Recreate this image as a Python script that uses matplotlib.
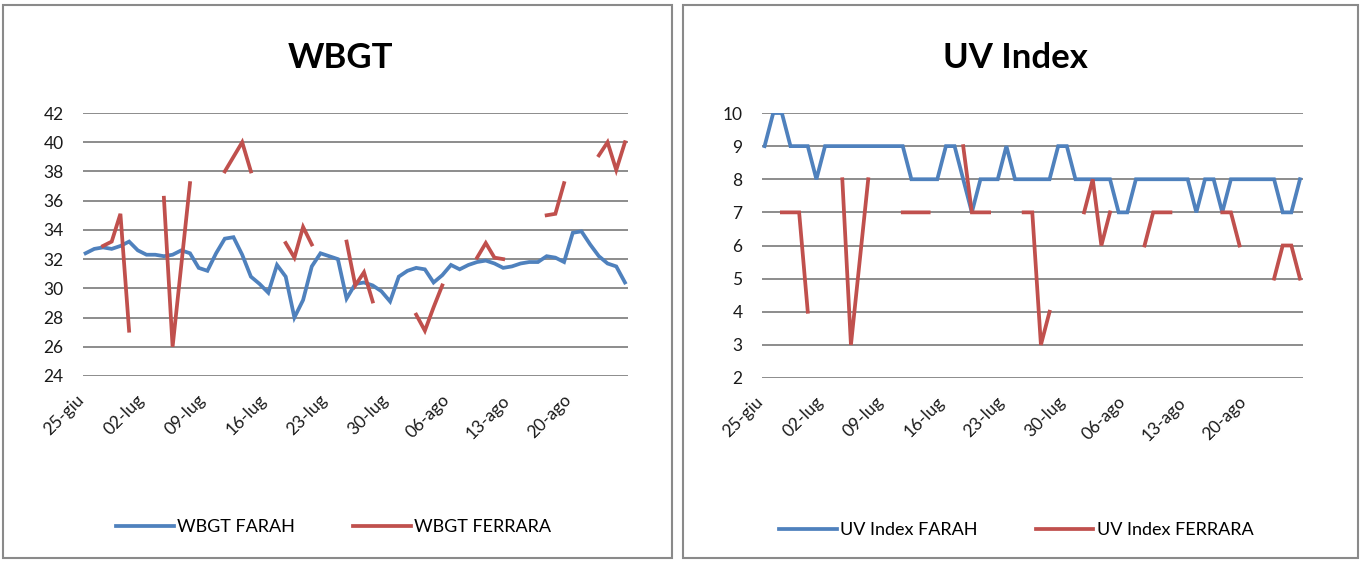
import numpy as np
import matplotlib
matplotlib.use("Agg")
import matplotlib.pyplot as plt
import matplotlib.transforms as mtransforms
from matplotlib.patches import Rectangle

plt.rcParams['font.family'] = ['Lato', 'DejaVu Sans']

nan = np.nan

# one value per day, 25-giu .. 26-ago
date_labels = ["25-giu", "02-lug", "09-lug", "16-lug", "23-lug",
               "30-lug", "06-ago", "13-ago", "20-ago"]

wbgt_farah = [32.4, 32.7, 32.8, 32.7, 32.9, 33.2, 32.6, 32.3, 32.3, 32.2,
              32.3, 32.6, 32.4, 31.4, 31.2, 32.4, 33.4, 33.5, 32.3, 30.8,
              30.3, 29.7, 31.6, 30.8, 28.0, 29.2, 31.5, 32.4, 32.2, 32.0,
              29.3, 30.3, 30.4, 30.2, 29.8, 29.1, 30.8, 31.2, 31.4, 31.3,
              30.4, 30.9, 31.6, 31.3, 31.6, 31.8, 31.9, 31.7, 31.4, 31.5,
              31.7, 31.8, 31.8, 32.2, 32.1, 31.8, 33.8, 33.9, 33.0, 32.2,
              31.7, 31.5, 30.4]

wbgt_ferrara = [nan, nan, 32.9, 33.2, 35.1, 27.1, nan, nan, nan, 36.2,
                26.0, 31.6, 37.2, nan, nan, nan, 38.0, 39.0, 40.0, 38.0,
                nan, nan, nan, 33.1, 32.1, 34.2, 33.0, nan, nan, nan,
                33.2, 30.2, 31.1, 29.1, nan, nan, nan, nan, 28.2, 27.1,
                28.7, 30.2, nan, nan, nan, 32.1, 33.1, 32.1, 32.0, nan,
                nan, nan, nan, 35.0, 35.1, 37.2, nan, nan, nan, 39.1,
                40.0, 38.1, 40.0]

uv_farah = [9, 10, 10, 9, 9, 9, 8, 9, 9, 9,
            9, 9, 9, 9, 9, 9, 9, 8, 8, 8,
            8, 9, 9, 8, 7, 8, 8, 8, 9, 8,
            8, 8, 8, 8, 9, 9, 8, 8, 8, 8,
            8, 7, 7, 8, 8, 8, 8, 8, 8, 8,
            7, 8, 8, 7, 8, 8, 8, 8, 8, 8,
            7, 7, 8]

uv_ferrara = [nan, nan, 7, 7, 7, 4, nan, nan, nan, 8,
              3, 5.5, 8, nan, nan, nan, 7, 7, 7, 7,
              nan, nan, nan, 9, 7, 7, 7, nan, nan, nan,
              7, 7, 3, 4, nan, nan, nan, 7, 8, 6,
              7, nan, nan, nan, 6, 7, 7, 7, nan, nan,
              nan, nan, nan, 7, 7, 6, nan, nan, nan, 5,
              6, 6, 5]

blue = '#4f81bd'
red = '#c0504d'
grid_col = '#8c8c8c'
txt_col = '#1a1a1a'

fig = plt.figure(figsize=(13.63, 5.61), dpi=100)
W, H = 1363, 561

# panel frames
for x0, x1 in [(3, 672), (683, 1358)]:
    fig.patches.append(Rectangle((x0 / W, 1 - 558 / H), (x1 - x0) / W, 553 / H,
                                 transform=fig.transFigure, fill=False,
                                 ec='#8a8a8a', lw=1.5))


def draw_panel(rect, title, title_x, s1, s2, names, yticks, leg_x):
    ax = fig.add_axes(rect)
    days = np.arange(len(s1))
    ax.plot(days, s1, color=blue, lw=2.7, label=names[0], solid_joinstyle='miter')
    ax.plot(days, s2, color=red, lw=2.7, label=names[1], solid_joinstyle='miter')
    ax.set_xlim(-0.3, len(s1) - 0.65)
    ax.set_ylim(yticks[0], yticks[-1])
    ax.set_yticks(yticks)
    ax.yaxis.grid(True, color=grid_col, lw=1.4)
    ax.set_axisbelow(True)
    for sp in ax.spines.values():
        sp.set_visible(False)
    tick_pos = np.arange(0, len(s1) - 6, 7)
    ax.set_xticks(tick_pos)
    ax.set_xticklabels([])
    # slanted date labels, drawn a bit left of and below each tick
    base = mtransforms.blended_transform_factory(ax.transData, ax.transAxes)
    shift = mtransforms.ScaledTranslation(-10 / 100, -16 / 100, fig.dpi_scale_trans)
    for pos, lab in zip(tick_pos, date_labels):
        ax.text(pos, 0, lab, transform=base + shift, rotation=45,
                ha='right', va='top', rotation_mode='anchor',
                fontsize=12.5, color=txt_col)
    ax.tick_params(axis='x', length=0)
    ax.tick_params(axis='y', length=0, pad=14, labelsize=12.5, labelcolor=txt_col)
    ax.legend(loc='center', bbox_to_anchor=(leg_x, -0.575), ncol=2,
              frameon=False, fontsize=13, handlelength=3.2,
              columnspacing=3.2, handletextpad=0.2)
    fig.text(title_x / W, 1 - 58 / H, title, ha='center', va='center',
             fontsize=25, fontweight='bold', color='black')
    return ax


draw_panel([83 / W, 1 - 376 / H, 545 / W, 263 / H], "WBGT", 340,
           wbgt_farah, wbgt_ferrara, ["WBGT FARAH", "WBGT FERRARA"],
           list(range(24, 43, 2)), 0.46)
draw_panel([762 / W, 1 - 378 / H, 541 / W, 265 / H], "UV Index", 1015,
           uv_farah, uv_ferrara, ["UV Index FARAH", "UV Index FERRARA"],
           list(range(2, 11)), 0.47)

fig.savefig("out.png", dpi=100)
